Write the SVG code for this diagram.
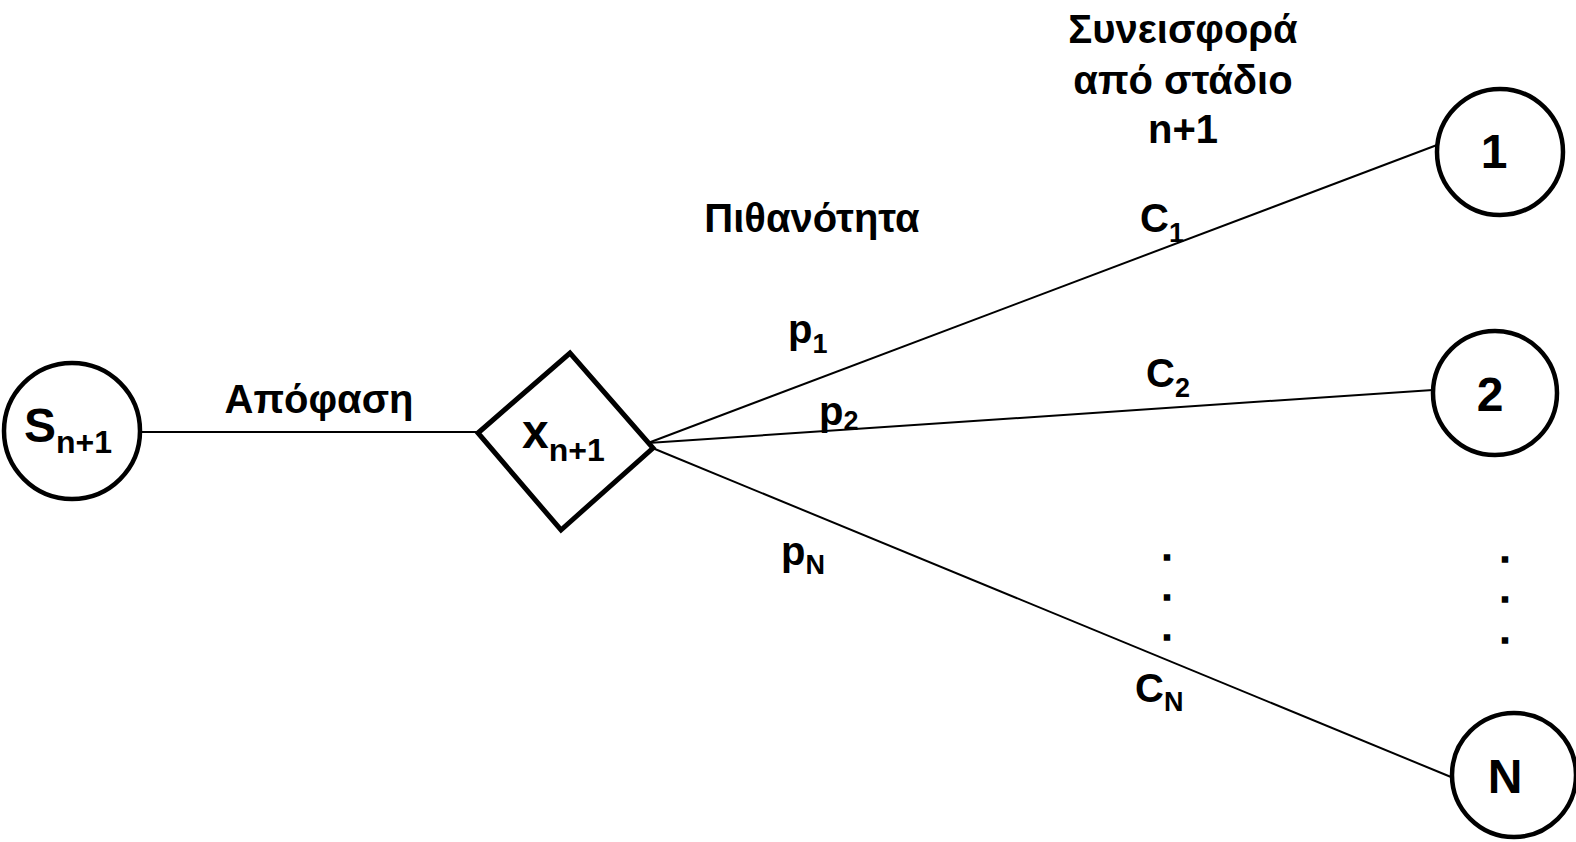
<svg xmlns="http://www.w3.org/2000/svg" width="1576" height="842" viewBox="0 0 1576 842">
<style>
text{font-family:"Liberation Sans",Arial,sans-serif;font-weight:bold;fill:#000}
.lbl{font-size:40px}
.big{font-size:48px}
.sub{font-size:32px}
.ssub{font-size:27px}
.node{fill:#fff;stroke:#000;stroke-width:4.5}
.conn{stroke:#000;stroke-width:2;fill:none}
.dot{font-size:34px;text-anchor:middle;stroke:#000;stroke-width:1.6}
</style>
<rect width="1576" height="842" fill="#fff"/>
<g id="connectors">
<line class="conn" x1="140" y1="432" x2="478" y2="432"/>
<line class="conn" x1="648" y1="443" x2="1437" y2="145"/>
<line class="conn" x1="648" y1="443" x2="1433" y2="390"/>
<line class="conn" x1="650" y1="447" x2="1451" y2="777"/>
</g>
<g id="node-s">
<circle class="node" cx="72" cy="431" r="68"/>
<text x="24" y="442" class="big">S<tspan class="sub" dy="11">n+1</tspan></text>
</g>
<g id="node-x">
<polygon points="478,433 570,353 653,448 561,530" fill="#fff" stroke="#000" stroke-width="5" stroke-linejoin="miter"/>
<text x="522" y="448" class="big">x<tspan class="sub" dy="13">n+1</tspan></text>
</g>
<g id="node-1">
<circle class="node" cx="1500" cy="152" r="63"/>
<text x="1494" y="168" class="big" text-anchor="middle">1</text>
</g>
<g id="node-2">
<circle class="node" cx="1495" cy="393" r="62"/>
<text x="1490" y="411" class="big" text-anchor="middle">2</text>
</g>
<g id="node-n">
<circle class="node" cx="1514" cy="775" r="62"/>
<text x="1505" y="793" class="big" text-anchor="middle">N</text>
</g>
<g id="labels">
<text x="319" y="413" class="lbl" text-anchor="middle">Απόφαση</text>
<text x="812" y="232" class="lbl" text-anchor="middle">Πιθανότητα</text>
<text class="lbl" text-anchor="middle"><tspan x="1183" y="43">Συνεισφορά</tspan><tspan x="1183" y="94">από στάδιο</tspan><tspan x="1183" y="143">n+1</tspan></text>
<text x="788" y="343" class="lbl">p<tspan class="ssub" dy="10">1</tspan></text>
<text x="819" y="425" class="lbl">p<tspan class="ssub" dy="5">2</tspan></text>
<text x="781" y="565" class="lbl">p<tspan class="ssub" dy="9">N</tspan></text>
<text x="1140" y="232" class="lbl">C<tspan class="ssub" dy="10">1</tspan></text>
<text x="1146" y="387" class="lbl">C<tspan class="ssub" dy="10">2</tspan></text>
<text x="1135" y="702" class="lbl">C<tspan class="ssub" dy="9">N</tspan></text>
<text class="dot"><tspan x="1167" y="560">.</tspan><tspan x="1167" y="600">.</tspan><tspan x="1167" y="640">.</tspan></text>
<text class="dot"><tspan x="1505" y="562">.</tspan><tspan x="1505" y="602">.</tspan><tspan x="1505" y="643">.</tspan></text>
</g>
</svg>
